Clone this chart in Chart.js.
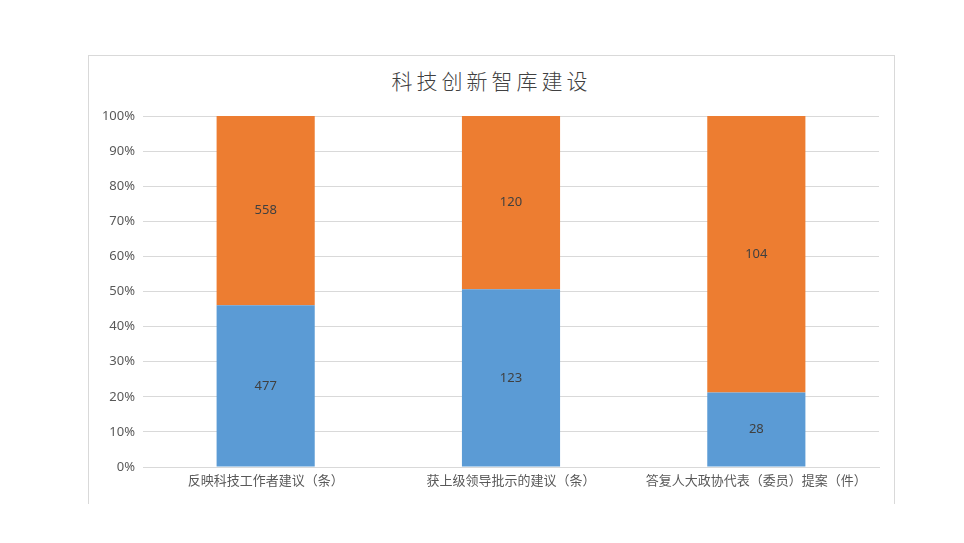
<!DOCTYPE html>
<html>
<head>
<meta charset="utf-8">
<script src="https://cdn.jsdelivr.net/npm/chart.js@4"></script>
<style>
  html, body { margin: 0; padding: 0; background: #fff; }
  body { width: 964px; height: 543px; position: relative; overflow: hidden; }
  .box {
    position: absolute; left: 88px; top: 55px; width: 805px; height: 448px;
    border: 1px solid #d9d9d9; border-bottom: none;
  }
  .title {
    position: absolute; left: 0; right: 0; top: 9px; text-align: center;
    font-family: "Noto Sans CJK SC", sans-serif; font-size: 21px; font-weight: 300;
    letter-spacing: 4px; color: #404040; line-height: 30px;
  }
  .wrap { position: absolute; left: 0; top: 44px; width: 805px; height: 404px; }
</style>
</head>
<body>
<div class="box">
  <div class="title">科技创新智库建设</div>
  <div class="wrap"><canvas id="chart"></canvas></div>
</div>
<script>
// 데이터
const categories = ["反映科技工作者建议（条）", "获上级领导批示的建议（条）", "答复人大政协代表（委员）提案（件）"];
const blueValues = [477, 123, 28];
const orangeValues = [558, 120, 104];
const yTicks = [0, 10, 20, 30, 40, 50, 60, 70, 80, 90, 100];

const totals = blueValues.map((v, i) => v + orangeValues[i]);
const toPct = (arr) => arr.map((v, i) => (v / totals[i]) * 100);

// 막대 안에 값 표시
const valueLabels = {
  id: "valueLabels",
  afterDatasetsDraw(chart) {
    const ctx = chart.ctx;
    ctx.save();
    ctx.font = '13px "Noto Sans", "DejaVu Sans", sans-serif';
    ctx.fillStyle = "#404040";
    ctx.textAlign = "center";
    ctx.textBaseline = "middle";
    chart.data.datasets.forEach((ds, di) => {
      chart.getDatasetMeta(di).data.forEach((bar, i) => {
        const mid = (bar.y + bar.base) / 2;
        ctx.fillText(String(ds.raw[i]), bar.x, mid);
      });
    });
    ctx.restore();
  },
};

new Chart(document.getElementById("chart"), {
  type: "bar",
  data: {
    labels: categories,
    datasets: [
      { label: "a", data: toPct(blueValues), raw: blueValues, backgroundColor: "#5B9BD5" },
      { label: "b", data: toPct(orangeValues), raw: orangeValues, backgroundColor: "#ED7D31" },
    ],
  },
  options: {
    responsive: true,
    maintainAspectRatio: false,
    animation: false,
    layout: { padding: { top: 16, right: 15, left: 0, bottom: 0 } },
    plugins: {
      legend: { display: false },
      title: { display: false },
      tooltip: { enabled: false },
    },
    datasets: { bar: { barPercentage: 0.4, categoryPercentage: 1.0 } },
    scales: {
      x: {
        stacked: true,
        grid: { display: false, drawTicks: false },
        border: { color: "#d9d9d9" },
        ticks: {
          color: "#595959",
          font: { family: '"Noto Sans CJK SC", sans-serif', size: 13 },
          padding: 5,
          maxRotation: 0,
          autoSkip: false,
        },
        afterFit(scale) { scale.height = 37; },
      },
      y: {
        stacked: true,
        min: 0,
        max: 100,
        afterBuildTicks(scale) { scale.ticks = yTicks.map((v) => ({ value: v })); },
        grid: { color: "#d9d9d9", drawTicks: false },
        border: { display: false },
        ticks: {
          color: "#595959",
          font: { family: '"Noto Sans", "DejaVu Sans", sans-serif', size: 13 },
          padding: 8,
          callback: (v) => v + "%",
        },
        afterFit(scale) { scale.width = 54; },
      },
    },
  },
  plugins: [valueLabels],
});
</script>
</body>
</html>
